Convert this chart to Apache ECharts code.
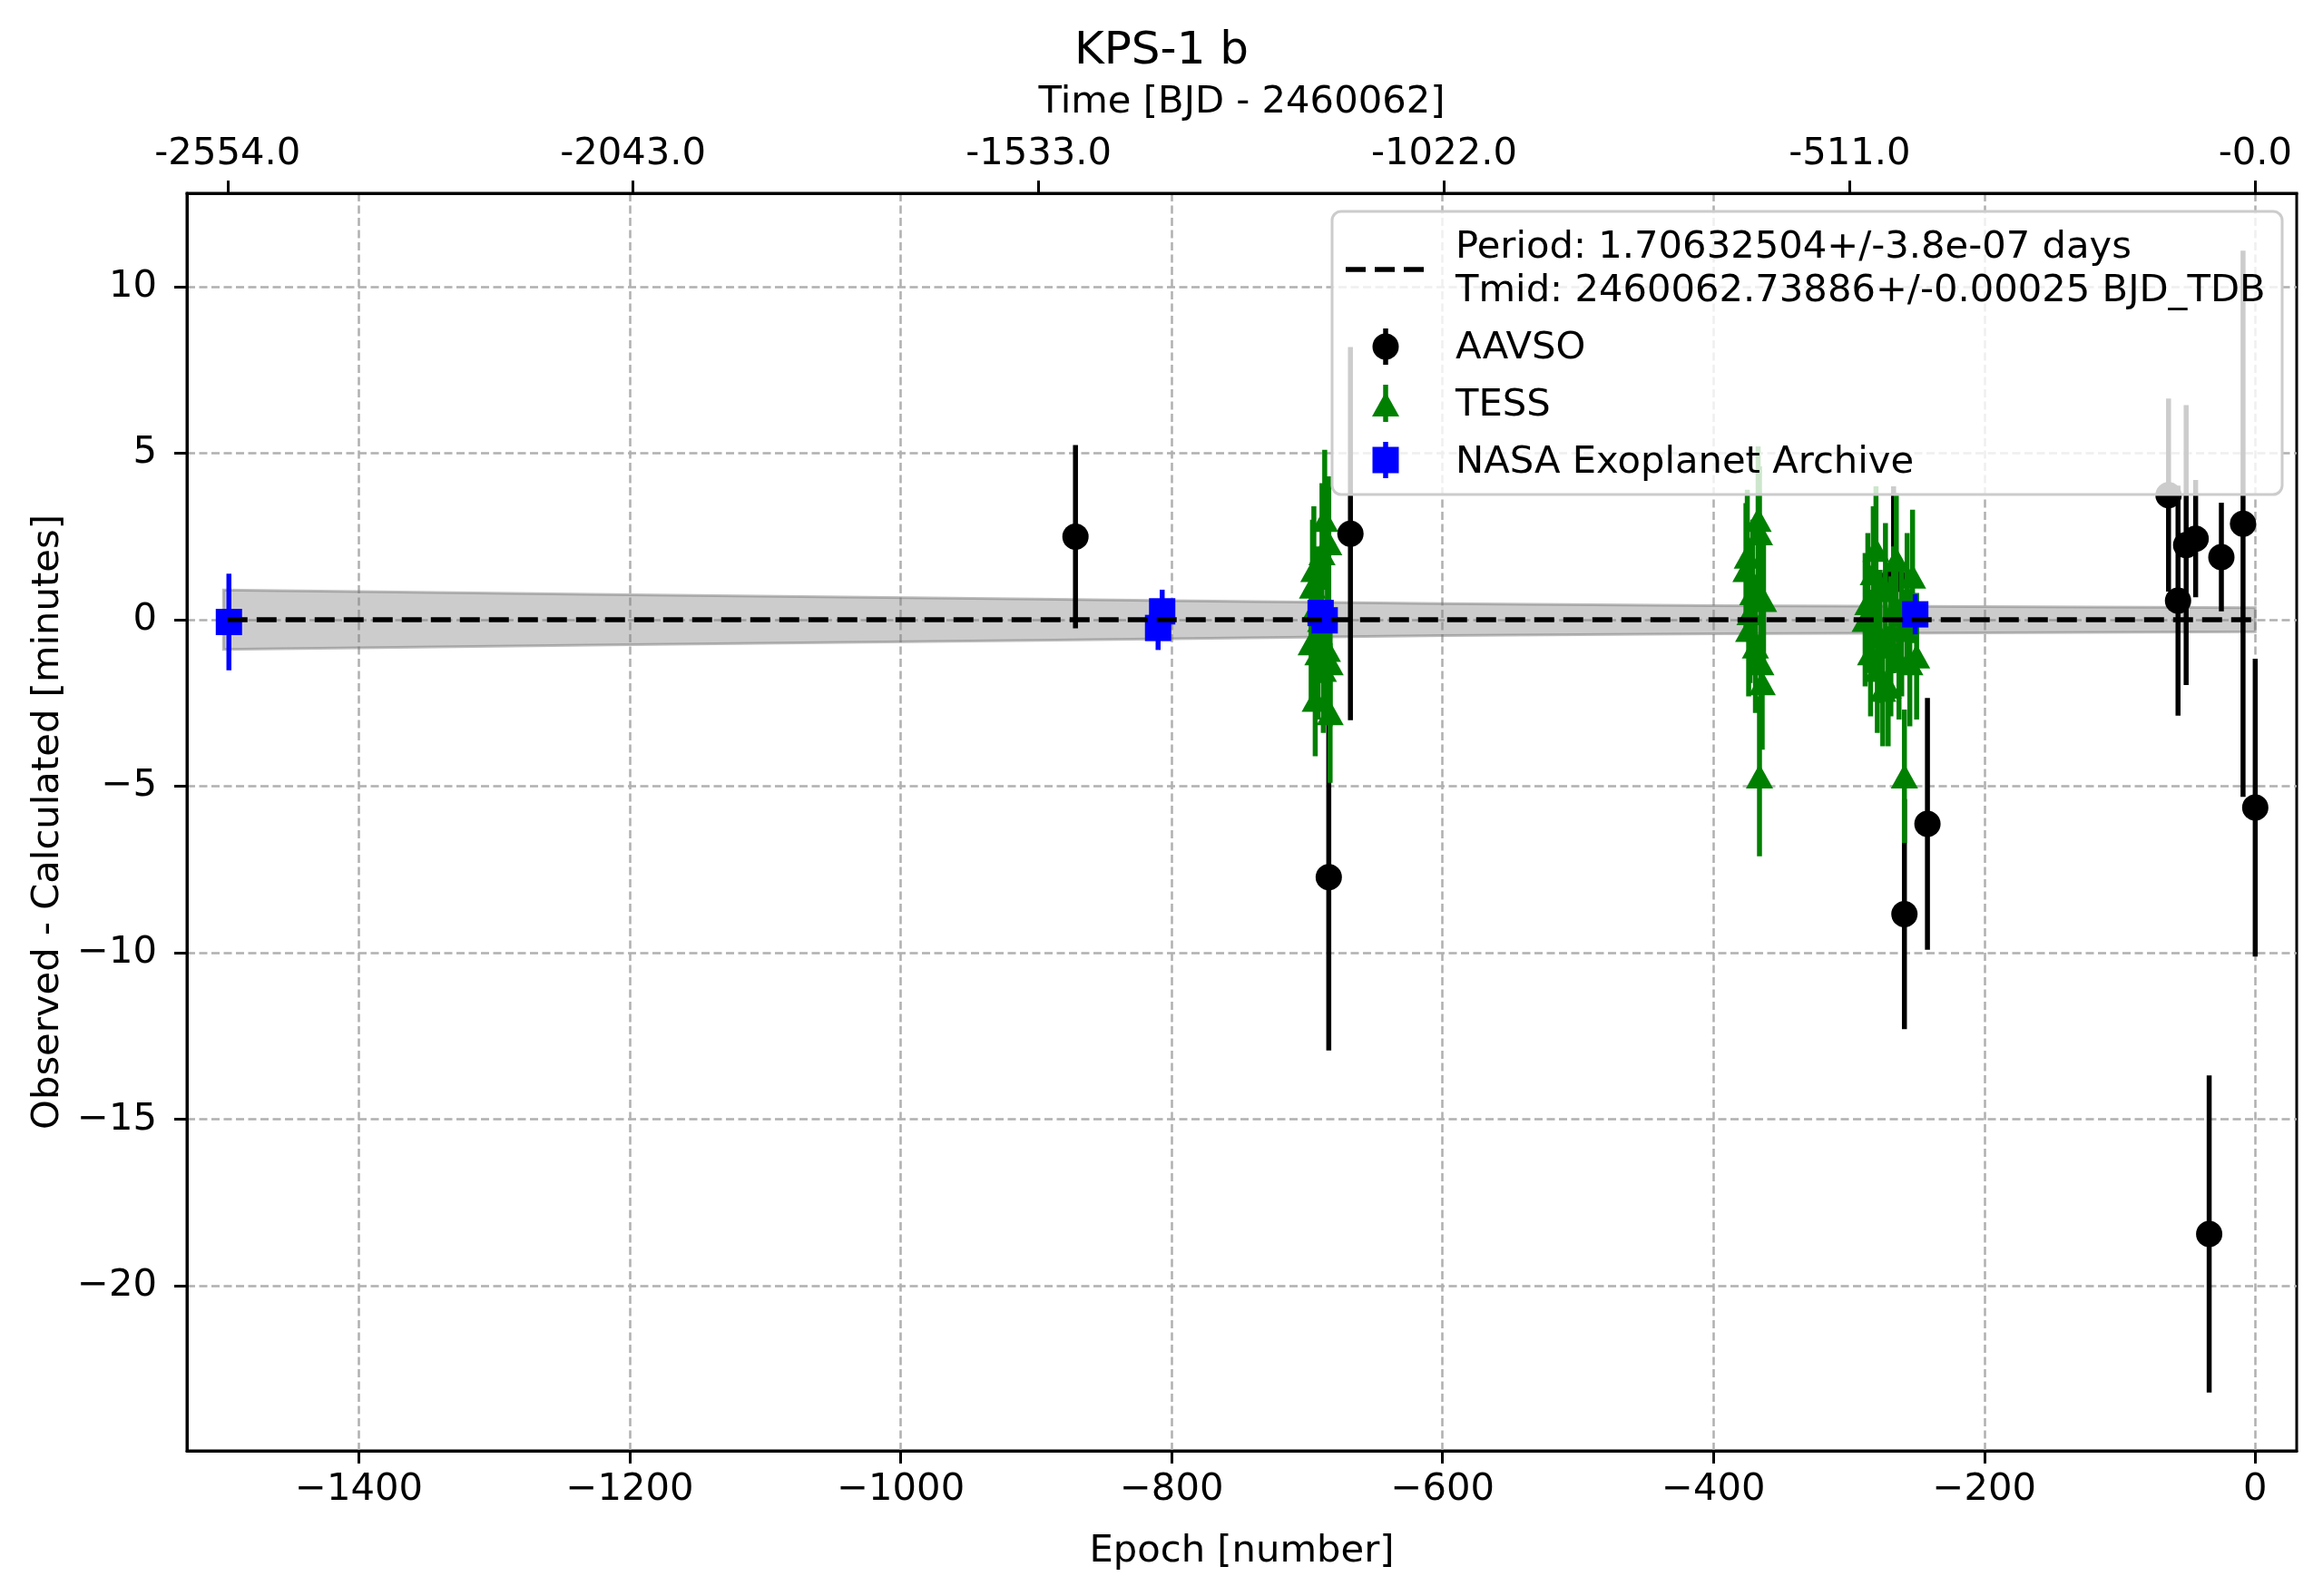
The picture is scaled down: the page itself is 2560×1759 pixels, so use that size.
<!DOCTYPE html>
<html>
<head>
<meta charset="utf-8">
<title>KPS-1 b O-C</title>
<script src="https://cdn.jsdelivr.net/npm/echarts@6.0.0/dist/echarts.min.js"></script>
<style>
  html, body { margin: 0; padding: 0; background: #fff; }
  #chart { width: 2560px; height: 1759px; }
</style>
</head>
<body>
<div id="chart"></div>
<script>
// observed minus calculated, minutes
const aavsoEpoch = [-871, -684, -668, -267, -259, -242, -64, -57, -51, -44, -34, -25, -9, 0];
const aavsoOC    = [2.49, -7.73, 2.58, 1.2, -8.84, -6.13, 3.74, 0.57, 2.24, 2.43, -18.44, 1.88, 2.88, -5.64];
const aavsoErr   = [2.75, 5.2, 5.6, 2.8, 3.45, 3.78, 2.9, 3.45, 4.2, 1.76, 4.76, 1.63, 8.2, 4.47];

const tessEpoch = [-697, -696, -695, -694, -693, -692, -690, -689, -688, -687, -685, -684, -683, -683,
                   -376, -375, -374, -373, -371, -369, -367, -366, -366, -365, -364, -363,
                   -288, -286, -284, -282, -280, -279, -277, -275, -273, -271, -269, -267, -265, -263, -261, -259, -257, -255, -253, -250];
const tessOC    = [-0.7, 1.0, 1.5, -2.4, 0.4, -1.0, 0.0, 2.0, -1.5, 3.0, -0.9, 2.3, -1.3, -2.8,
                   1.5, 1.9, -0.3, 0.2, 0.8, -0.8, 3.0, -4.7, 2.6, -1.3, -1.9, 0.6,
                   0.0, 0.5, -1.0, 1.4, 2.1, -1.5, -0.5, -2.1, 0.9, -2.0, -0.8, 0.3, 1.8, -1.2, -0.3, -4.7, 0.7, -1.3, 1.3, -1.1];
const tessErr   = [1.9, 2.0, 1.9, 1.7, 1.8, 2.0, 1.9, 2.1, 1.9, 2.1, 2.0, 2.0, 1.9, 2.1,
                   2.0, 2.0, 2.0, 2.1, 2.2, 2.0, 2.2, 2.4, 2.0, 1.9, 2.0, 1.9,
                   2.0, 2.1, 1.9, 2.0, 1.9, 1.9, 2.0, 1.7, 2.0, 1.8, 2.1, 1.9, 2.0, 1.8, 2.0, 2.0, 1.9, 1.9, 2.0, 1.9];

const nasaEpoch = [-1496, -810, -807, -690, -687, -251];
const nasaOC    = [-0.07, -0.25, 0.25, 0.2, -0.02, 0.16];
const nasaErr   = [1.45, 0.66, 0.65, 0.3, 0.3, 0.6];

// linear ephemeris and its 1-sigma band
const modelEpoch = [-1497, 0];
const modelOC    = [0, 0];
const bandEpoch = [-1500, -1200, -900, -800, -600, -400, -250, 0];
const bandHalf  = [0.89, 0.75, 0.62, 0.57, 0.48, 0.42, 0.40, 0.36];

// axes
const xTicks = [-1400, -1200, -1000, -800, -600, -400, -200, 0];
const yTicks = [-20, -15, -10, -5, 0, 5, 10];
const topTickEpochs = [-1497, -1197.6, -898.2, -598.8, -299.4, 0];
const topTickLabels = ['-2554.0', '-2043.0', '-1533.0', '-1022.0', '-511.0', '-0.0'];

const FONT = 'DejaVu Sans';
const FS = 41.7;

function minus(v) {
  return v < 0 ? '\u2212' + Math.abs(v) : String(v);
}

function errorBars(epoch, oc, err, color, z) {
  return {
    type: 'custom',
    z: z,
    silent: true,
    encode: { x: 0, y: [1, 2] },
    data: epoch.map((e, i) => [e, oc[i] - err[i], oc[i] + err[i]]),
    renderItem: function (params, api) {
      const lo = api.coord([api.value(0), api.value(1)]);
      const hi = api.coord([api.value(0), api.value(2)]);
      return {
        type: 'line',
        shape: { x1: lo[0], y1: lo[1], x2: hi[0], y2: hi[1] },
        style: { stroke: color, lineWidth: 5.5 }
      };
    }
  };
}

function markers(epoch, oc, symbol, size, color, z) {
  return {
    type: 'scatter',
    z: z,
    silent: true,
    symbol: symbol,
    symbolSize: size,
    itemStyle: { color: color, opacity: 1 },
    data: epoch.map((e, i) => [e, oc[i]])
  };
}

const gridLine = { show: true, lineStyle: { color: '#b0b0b0', width: 2.5, type: [9, 4.5] } };
const spine = { show: true, onZero: false, lineStyle: { color: '#000', width: 3 } };

const chart = echarts.init(document.getElementById('chart'), null, { renderer: 'canvas' });

const option = {
  animation: false,
  backgroundColor: '#fff',
  textStyle: { fontFamily: FONT },
  title: {
    text: 'KPS-1 b',
    left: 'center',
    top: 27,
    textStyle: { fontFamily: FONT, fontSize: 50, fontWeight: 'normal', color: '#000' }
  },
  grid: {
    left: 206, right: 29, top: 213, bottom: 160,
    show: true, borderColor: '#000', borderWidth: 3, backgroundColor: 'transparent'
  },
  xAxis: [{
    type: 'value',
    min: -1527, max: 30.6,
    name: 'Epoch [number]',
    nameLocation: 'middle',
    nameGap: 90,
    nameTextStyle: { fontFamily: FONT, fontSize: FS, color: '#000' },
    axisLine: spine,
    axisTick: { show: true, length: 14, lineStyle: { color: '#000', width: 3 }, customValues: xTicks },
    axisLabel: { show: true, margin: 22, fontFamily: FONT, fontSize: FS, color: '#000', customValues: xTicks, formatter: minus },
    splitLine: gridLine
  }, {
    type: 'value',
    position: 'top',
    min: -1527, max: 30.6,
    name: 'Time [BJD - 2460062]',
    nameLocation: 'middle',
    nameGap: 79,
    nameTextStyle: { fontFamily: FONT, fontSize: FS, color: '#000' },
    axisLine: spine,
    axisTick: { show: true, length: 14, lineStyle: { color: '#000', width: 3 }, customValues: topTickEpochs },
    axisLabel: {
      show: true, margin: 22, fontFamily: FONT, fontSize: FS, color: '#000',
      customValues: topTickEpochs,
      formatter: function (v) {
        for (let i = 0; i < topTickEpochs.length; i++) {
          if (Math.abs(topTickEpochs[i] - v) < 1e-6) return topTickLabels[i];
        }
        return '';
      }
    },
    splitLine: { show: false }
  }],
  yAxis: {
    type: 'value',
    min: -24.95, max: 12.8,
    name: 'Observed - Calculated [minutes]',
    nameLocation: 'middle',
    nameGap: 132,
    nameRotate: 90,
    nameTextStyle: { fontFamily: FONT, fontSize: FS, color: '#000' },
    axisLine: spine,
    axisTick: { show: true, length: 14, lineStyle: { color: '#000', width: 3 }, customValues: yTicks },
    axisLabel: { show: true, margin: 33, fontFamily: FONT, fontSize: FS, color: '#000', customValues: yTicks, formatter: minus },
    splitLine: gridLine
  },
  series: [
    {
      // uncertainty band of the ephemeris
      type: 'custom',
      z: 1,
      silent: true,
      encode: { x: 0, y: [1, 2] },
      data: bandEpoch.map((e, i) => [e, -bandHalf[i], bandHalf[i]]),
      renderItem: function (params, api) {
        if (params.dataIndex !== 0) return null;
        const upper = bandEpoch.map((e, i) => api.coord([e, bandHalf[i]]));
        const lower = bandEpoch.map((e, i) => api.coord([e, -bandHalf[i]])).reverse();
        return {
          type: 'polygon',
          shape: { points: upper.concat(lower) },
          style: { fill: 'rgba(128,128,128,0.4)', stroke: 'rgba(110,110,110,0.45)', lineWidth: 3 }
        };
      }
    },
    errorBars(aavsoEpoch, aavsoOC, aavsoErr, '#000000', 2),
    markers(aavsoEpoch, aavsoOC, 'circle', 29, '#000000', 3),
    errorBars(tessEpoch, tessOC, tessErr, '#008000', 4),
    markers(tessEpoch, tessOC, 'triangle', [30, 27], '#008000', 5),
    errorBars(nasaEpoch, nasaOC, nasaErr, '#0000ff', 6),
    markers(nasaEpoch, nasaOC, 'rect', 29, '#0000ff', 7),
    {
      type: 'line',
      z: 8,
      silent: true,
      symbol: 'none',
      lineStyle: { color: '#000', width: 5.5, type: [22, 10] },
      data: modelEpoch.map((e, i) => [e, modelOC[i]])
    }
  ],
  graphic: {
    elements: [
      {
        type: 'group', z: 100,
        children: [
          { type: 'rect', z: 100, shape: { x: 1468, y: 233, width: 1047, height: 312, r: 10 },
            style: { fill: 'rgba(255,255,255,0.8)', stroke: '#cccccc', lineWidth: 3 } },
          { type: 'line', z: 101, shape: { x1: 1483, y1: 297, x2: 1570, y2: 297 },
            style: { stroke: '#000', lineWidth: 5.5, lineDash: [22, 10] } },
          { type: 'text', z: 101, x: 1604, y: 273,
            style: { text: 'Period: 1.70632504+/-3.8e-07 days', font: FS + 'px "' + FONT + '"', fill: '#000', verticalAlign: 'middle' } },
          { type: 'text', z: 101, x: 1604, y: 321,
            style: { text: 'Tmid: 2460062.73886+/-0.00025 BJD_TDB', font: FS + 'px "' + FONT + '"', fill: '#000', verticalAlign: 'middle' } },
          { type: 'line', z: 101, shape: { x1: 1527, y1: 362, x2: 1527, y2: 402 }, style: { stroke: '#000', lineWidth: 5.5 } },
          { type: 'circle', z: 102, shape: { cx: 1527, cy: 382, r: 14.5 }, style: { fill: '#000' } },
          { type: 'text', z: 101, x: 1604, y: 384,
            style: { text: 'AAVSO', font: FS + 'px "' + FONT + '"', fill: '#000', verticalAlign: 'middle' } },
          { type: 'line', z: 101, shape: { x1: 1527, y1: 424, x2: 1527, y2: 465 }, style: { stroke: '#008000', lineWidth: 5.5 } },
          { type: 'polygon', z: 102, shape: { points: [[1527, 432], [1542, 459], [1512, 459]] }, style: { fill: '#008000' } },
          { type: 'text', z: 101, x: 1604, y: 447,
            style: { text: 'TESS', font: FS + 'px "' + FONT + '"', fill: '#000', verticalAlign: 'middle' } },
          { type: 'line', z: 101, shape: { x1: 1527, y1: 487, x2: 1527, y2: 527 }, style: { stroke: '#0000ff', lineWidth: 5.5 } },
          { type: 'rect', z: 102, shape: { x: 1512.5, y: 492.5, width: 29, height: 29 }, style: { fill: '#0000ff' } },
          { type: 'text', z: 101, x: 1604, y: 510,
            style: { text: 'NASA Exoplanet Archive', font: FS + 'px "' + FONT + '"', fill: '#000', verticalAlign: 'middle' } }
        ]
      }
    ]
  }
};

chart.setOption(option);
</script>
</body>
</html>
